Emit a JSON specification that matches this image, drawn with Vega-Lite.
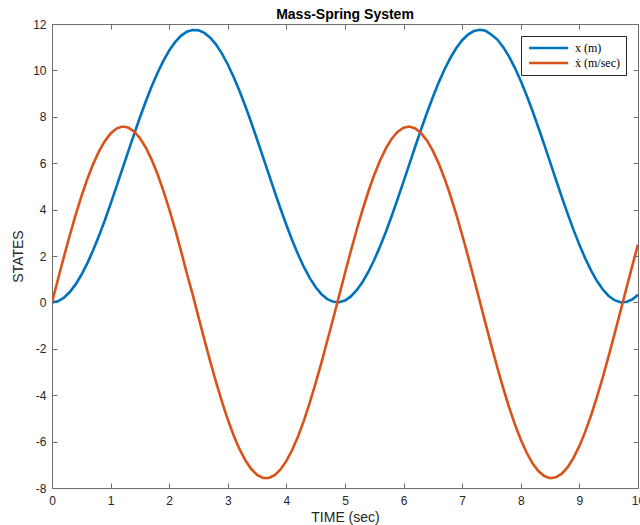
{
  "$schema": "https://vega.github.io/schema/vega-lite/v6.json",
  "width": 586,
  "height": 464,
  "autosize": {"type": "none"},
  "padding": {"left": 52, "top": 24, "right": 2, "bottom": 37},
  "title": {"text": "Mass-Spring System", "font": "Liberation Sans", "fontSize": 14, "fontWeight": "bold", "color": "#000000", "offset": -4},
  "config": {
    "view": {"stroke": null},
    "axis": {
      "grid": false,
      "labelFont": "Liberation Sans",
      "labelFontSize": 12,
      "labelColor": "#262626",
      "domainColor": "#6e6e6e",
      "domainWidth": 1,
      "tickColor": "#6e6e6e",
      "tickWidth": 1,
      "tickSize": -5,
      "titleFont": "Liberation Sans",
      "titleFontSize": 14,
      "titleFontWeight": "normal",
      "titleColor": "#262626"
    }
  },
  "data": {"values": [
    {"t":0.0,"x":0.0,"v":0.0},{"t":0.1,"x":0.049,"v":0.975},{"t":0.2,"x":0.195,"v":1.934},{"t":0.3,"x":0.435,"v":2.861},{"t":0.4,"x":0.765,"v":3.740},
    {"t":0.5,"x":1.181,"v":4.558},{"t":0.6,"x":1.674,"v":5.299},{"t":0.7,"x":2.236,"v":5.951},{"t":0.8,"x":2.858,"v":6.504},{"t":0.9,"x":3.529,"v":6.949},
    {"t":1.0,"x":4.248,"v":7.284},{"t":1.1,"x":4.987,"v":7.493},{"t":1.2,"x":5.743,"v":7.578},{"t":1.3,"x":6.499,"v":7.537},{"t":1.4,"x":7.245,"v":7.371},
    {"t":1.5,"x":7.969,"v":7.082},{"t":1.6,"x":8.659,"v":6.675},{"t":1.7,"x":9.303,"v":6.156},{"t":1.8,"x":9.890,"v":5.534},{"t":1.9,"x":10.410,"v":4.818},
    {"t":2.0,"x":10.855,"v":4.022},{"t":2.1,"x":11.217,"v":3.155},{"t":2.2,"x":11.490,"v":2.231},{"t":2.3,"x":11.669,"v":1.255},{"t":2.4,"x":11.744,"v":0.342},
    {"t":2.5,"x":11.729,"v":-0.635},{"t":2.6,"x":11.617,"v":-1.602},{"t":2.7,"x":11.410,"v":-2.542},{"t":2.8,"x":11.110,"v":-3.439},{"t":2.9,"x":10.724,"v":-4.280},
    {"t":3.0,"x":10.256,"v":-5.050},{"t":3.1,"x":9.717,"v":-5.735},{"t":3.2,"x":9.112,"v":-6.326},{"t":3.3,"x":8.453,"v":-6.811},{"t":3.4,"x":7.752,"v":-7.183},
    {"t":3.5,"x":7.021,"v":-7.434},{"t":3.6,"x":6.272,"v":-7.562},{"t":3.7,"x":5.515,"v":-7.566},{"t":3.8,"x":4.769,"v":-7.444},{"t":3.9,"x":4.035,"v":-7.199},
    {"t":4.0,"x":3.334,"v":-6.834},{"t":4.1,"x":2.672,"v":-6.354},{"t":4.2,"x":2.063,"v":-5.767},{"t":4.3,"x":1.517,"v":-5.083},{"t":4.4,"x":1.045,"v":-4.314},
    {"t":4.5,"x":0.653,"v":-3.473},{"t":4.6,"x":0.349,"v":-2.573},{"t":4.7,"x":0.138,"v":-1.631},{"t":4.8,"x":0.024,"v":-0.683},{"t":4.9,"x":0.004,"v":0.294},
    {"t":5.0,"x":0.083,"v":1.266},{"t":5.1,"x":0.257,"v":2.217},{"t":5.2,"x":0.525,"v":3.131},{"t":5.3,"x":0.882,"v":3.994},{"t":5.4,"x":1.322,"v":4.790},
    {"t":5.5,"x":1.837,"v":5.505},{"t":5.6,"x":2.420,"v":6.131},{"t":5.7,"x":3.059,"v":6.652},{"t":5.8,"x":3.746,"v":7.065},{"t":5.9,"x":4.470,"v":7.360},
    {"t":6.0,"x":5.214,"v":7.532},{"t":6.1,"x":5.970,"v":7.579},{"t":6.2,"x":6.732,"v":7.499},{"t":6.3,"x":7.472,"v":7.294},{"t":6.4,"x":8.184,"v":6.970},
    {"t":6.5,"x":8.855,"v":6.532},{"t":6.6,"x":9.484,"v":5.982},{"t":6.7,"x":10.050,"v":5.333},{"t":6.8,"x":10.547,"v":4.596},{"t":6.9,"x":10.967,"v":3.782},
    {"t":7.0,"x":11.301,"v":2.905},{"t":7.1,"x":11.546,"v":1.981},{"t":7.2,"x":11.696,"v":1.023},{"t":7.3,"x":11.750,"v":0.048},{"t":7.4,"x":11.706,"v":-0.928},
    {"t":7.5,"x":11.540,"v":-1.888},{"t":7.6,"x":11.329,"v":-2.817},{"t":7.7,"x":11.003,"v":-3.699},{"t":7.8,"x":10.592,"v":-4.519},{"t":7.9,"x":10.102,"v":-5.265},
    {"t":8.0,"x":9.542,"v":-5.923},{"t":8.1,"x":8.921,"v":-6.482},{"t":8.2,"x":8.249,"v":-6.934},{"t":8.3,"x":7.538,"v":-7.270},{"t":8.4,"x":6.799,"v":-7.486},
    {"t":8.5,"x":6.045,"v":-7.577},{"t":8.6,"x":5.288,"v":-7.542},{"t":8.7,"x":4.540,"v":-7.382},{"t":8.8,"x":3.816,"v":-7.099},{"t":8.9,"x":3.125,"v":-6.698},
    {"t":9.0,"x":2.480,"v":-6.186},{"t":9.1,"x":1.891,"v":-5.571},{"t":9.2,"x":1.368,"v":-4.863},{"t":9.3,"x":0.921,"v":-4.074},{"t":9.4,"x":0.556,"v":-3.218},
    {"t":9.5,"x":0.279,"v":-2.308},{"t":9.6,"x":0.095,"v":-1.359},{"t":9.7,"x":0.008,"v":-0.390},{"t":9.8,"x":0.018,"v":0.588},{"t":9.9,"x":0.125,"v":1.555},
    {"t":10.0,"x":0.328,"v":2.497}
  ]},
  "layer": [
    {
      "transform": [{"fold": ["x", "v"], "as": ["series", "value"]}],
      "mark": {"type": "line", "strokeWidth": 2.6, "clip": true},
      "encoding": {
        "x": {"field": "t", "type": "quantitative", "scale": {"domain": [0, 10], "nice": false, "zero": false},
              "axis": {"orient": "bottom", "values": [0,1,2,3,4,5,6,7,8,9,10], "title": "TIME (sec)", "labelPadding": 12, "titlePadding": 4, "labelFlush": false, "labelOverlap": false, "labelBound": false}},
        "y": {"field": "value", "type": "quantitative", "scale": {"domain": [-8, 12], "nice": false, "zero": false},
              "axis": {"orient": "left", "values": [-8,-6,-4,-2,0,2,4,6,8,10,12], "title": "STATES", "labelExpr": "'' + datum.value", "labelPadding": 11, "titlePadding": 7, "labelFlush": false, "labelOverlap": false}},
        "color": {"field": "series", "type": "nominal",
                  "scale": {"domain": ["x", "v"], "range": ["#0072BD", "#D95319"]},
                  "legend": {"orient": "top-right", "offset": 12, "title": null,
                             "labelExpr": "datum.label == 'x' ? 'x (m)' : 'ẋ (m/sec)'",
                             "labelFont": "Liberation Serif", "labelFontSize": 12, "labelColor": "#000000",
                             "symbolType": "M-1,0H9", "symbolSize": 61, "symbolStrokeWidth": 2.6,
                             "labelOffset": 36, "rowPadding": 3,
                             "padding": 6, "strokeColor": "#262626", "fillColor": "#ffffff", "cornerRadius": 0}}
      }
    },
    {
      "mark": {"type": "line", "opacity": 0},
      "encoding": {
        "x": {"field": "t", "type": "quantitative", "scale": {"domain": [0, 10], "nice": false, "zero": false},
              "axis": {"orient": "top", "values": [0,1,2,3,4,5,6,7,8,9,10], "labels": false, "title": null}},
        "y": {"field": "x", "type": "quantitative", "scale": {"domain": [-8, 12], "nice": false, "zero": false},
              "axis": {"orient": "right", "values": [-8,-6,-4,-2,0,2,4,6,8,10,12], "labels": false, "title": null}}
      }
    }
  ],
  "resolve": {"axis": {"x": "independent", "y": "independent"}}
}
